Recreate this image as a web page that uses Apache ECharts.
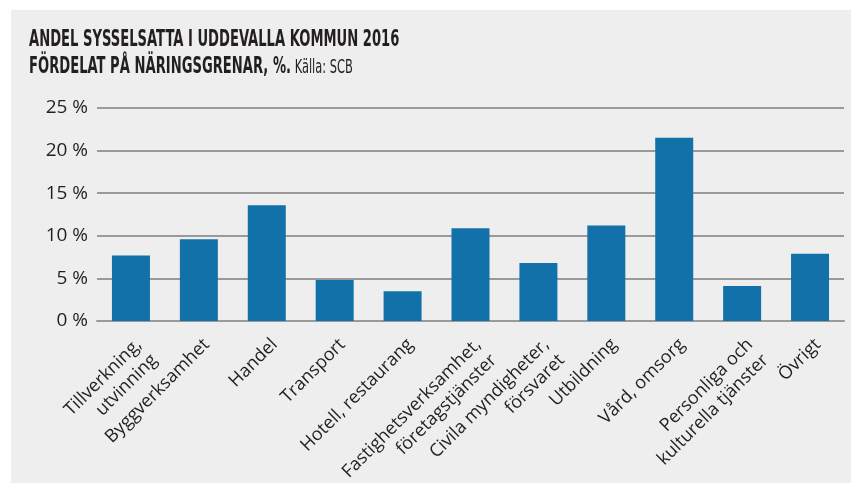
<!DOCTYPE html>
<html>
<head>
<meta charset="utf-8">
<script src="https://cdn.jsdelivr.net/npm/echarts@6/dist/echarts.min.js"></script>
<style>
html,body{margin:0;padding:0;background:#fff;}
#chart{width:854px;height:483px;}
</style>
</head>
<body>
<div id="chart"></div>
<script>
const categories = ['Tillverkning,\nutvinning','Byggverksamhet','Handel','Transport','Hotell, restaurang','Fastighetsverksamhet,\nföretagstjänster','Civila myndigheter,\nförsvaret','Utbildning','Vård, omsorg','Personliga och\nkulturella tjänster','Övrigt'];
const values = [7.7, 9.6, 13.6, 4.8, 3.5, 10.9, 6.8, 11.2, 21.5, 4.1, 7.9];
const titleLine1 = 'ANDEL SYSSELSATTA I UDDEVALLA KOMMUN 2016';
const titleLine2 = 'FÖRDELAT PÅ NÄRINGSGRENAR, %.';
const sourceText = 'Källa: SCB';

const chart = echarts.init(document.getElementById('chart'));
const condensed = '"DejaVu Sans Condensed", "DejaVu Sans", sans-serif';
const labelFont = '"Open Sans", "Noto Sans", sans-serif';
chart.setOption({
  backgroundColor: '#ffffff',
  animation: false,
  graphic: {
    elements: [{
      type: 'rect', z: -100, silent: true,
      shape: {x: 11, y: 10, width: 840, height: 473},
      style: {fill: '#eeeeee'}
    }, {
      type: 'text', x: 29, y: 27, scaleX: 0.635, silent: true,
      style: {
        text: '{b|' + titleLine1 + '}\n{b|' + titleLine2 + '}{s| ' + sourceText + '}',
        rich: {
          b: {fontFamily: condensed, fontWeight: 'bold', fontSize: 23, fill: '#231f20', lineHeight: 27},
          s: {fontFamily: condensed, fontWeight: 'normal', fontSize: 20, fill: '#231f20', lineHeight: 27}
        }
      }
    }]
  },
  grid: {left: 97, right: 10, top: 108, bottom: 162, outerBoundsMode: 'none', containLabel: false},
  xAxis: {
    type: 'category',
    data: categories,
    axisTick: {show: false},
    axisLine: {show: true, lineStyle: {color: '#9a9a9a', width: 2}},
    axisLabel: {
      interval: 0, rotate: 45, margin: 13,
      align: 'right', verticalAlign: 'top',
      fontFamily: labelFont, fontSize: 18, lineHeight: 22, color: '#231f20'
    }
  },
  yAxis: {
    type: 'value', min: 0, max: 25, interval: 5,
    axisLine: {show: false}, axisTick: {show: false},
    axisLabel: {formatter: '{value} %', margin: 9, fontFamily: labelFont, fontSize: 19, color: '#231f20'},
    splitLine: {lineStyle: {color: '#9a9a9a', width: 2}}
  },
  series: [{
    type: 'bar',
    data: values,
    barWidth: 38,
    itemStyle: {color: '#1271a8'}
  }]
});
</script>
</body>
</html>
